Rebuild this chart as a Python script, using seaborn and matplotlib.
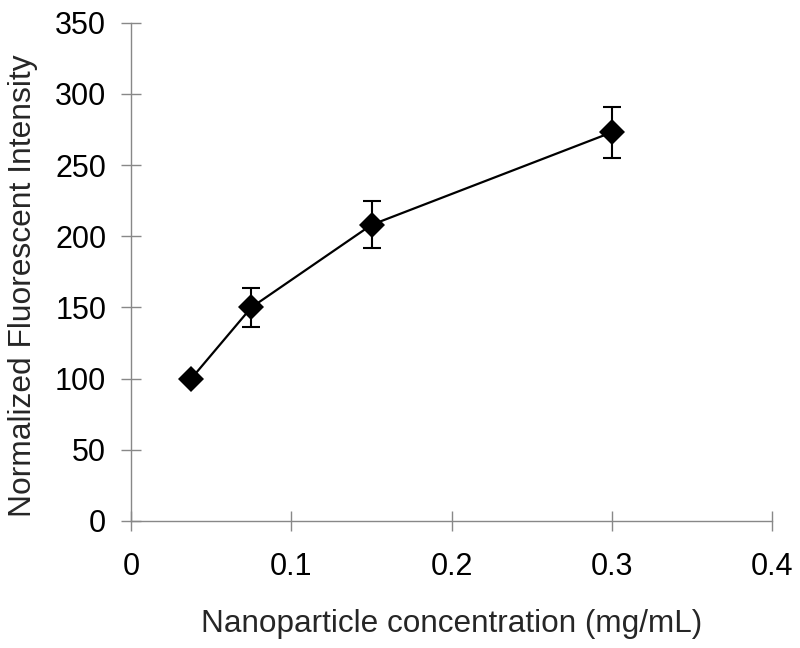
import matplotlib
matplotlib.use("Agg")
import matplotlib.pyplot as plt
import seaborn as sns
import pandas as pd

# === Data ===
concentration = [0.0375, 0.075, 0.15, 0.3]
intensity = [100, 150, 208, 273]
intensity_err = [0, 13.5, 16.5, 18]

x_ticks = [0, 0.1, 0.2, 0.3, 0.4]
x_tick_labels = ["0", "0.1", "0.2", "0.3", "0.4"]
y_ticks = [0, 50, 100, 150, 200, 250, 300, 350]

df = pd.DataFrame({"conc": concentration, "intensity": intensity, "err": intensity_err})

sns.set_style("ticks")
plt.rcParams["font.family"] = ["Liberation Sans", "DejaVu Sans"]

fig = plt.figure(figsize=(8, 6.48), dpi=100)
ax = fig.add_axes([0.164, 0.196, 0.801, 0.769])

ax.errorbar(df["conc"], df["intensity"], yerr=df["err"], fmt="none",
            ecolor="black", elinewidth=1.5, capsize=6.5, capthick=1.5, zorder=2)
sns.lineplot(data=df, x="conc", y="intensity", ax=ax, color="black",
             linewidth=1.6, marker="D", markersize=13.5, markeredgewidth=0,
             zorder=3)

ax.set_xlim(0, 0.4)
ax.set_ylim(0, 350)
ax.set_xticks(x_ticks)
ax.set_xticklabels(x_tick_labels)
ax.set_yticks(y_ticks)

ax.set_xlabel("Nanoparticle concentration (mg/mL)", fontsize=22.7, labelpad=20)
ax.set_ylabel("Normalized Fluorescent Intensity", fontsize=22.9, labelpad=12, y=0.472)

for side in ["top", "right"]:
    ax.spines[side].set_visible(False)
for side in ["left", "bottom"]:
    ax.spines[side].set_color("#888888")
    ax.spines[side].set_linewidth(1.0)
ax.tick_params(axis="both", direction="inout", length=14, width=1.0,
               color="#888888", labelsize=22, labelcolor="black")
ax.tick_params(axis="x", pad=15)
ax.tick_params(axis="y", pad=11)

fig.savefig("out.png", dpi=100)
